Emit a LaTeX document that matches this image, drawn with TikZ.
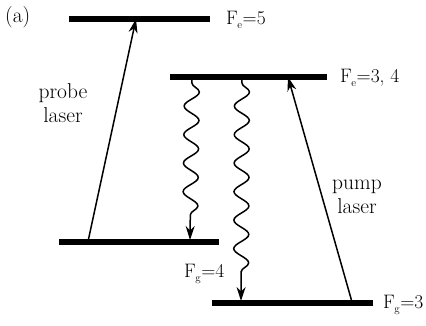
\documentclass[tikz,border=0pt]{standalone}
\usetikzlibrary{decorations.pathmorphing,arrows.meta}
\newcommand{\lev}[2]{F\kern-0.5pt\raisebox{-4pt}{\fontsize{11}{12}\selectfont #1}\kern0.5pt=#2}
\begin{document}
\begin{tikzpicture}[x=1pt,y=-1pt,
  level/.style={draw=none,fill=black,inner sep=0pt,minimum height=6pt},
  lbl/.style={inner sep=0pt,font=\fontsize{21.5}{24}\selectfont},
  flbl/.style={inner sep=0pt,anchor=west,font=\fontsize{19.5}{22}\selectfont},
  tip/.style={-{Stealth[length=14pt,width=9pt,inset=4.5pt]}},
  laser/.style={line width=1.5pt,tip},
  decay/.style={line width=1.5pt,tip,
    decorate,decoration={snake,segment length=28.5pt,amplitude=7.5pt,pre length=5pt,post length=17pt}}]
\useasboundingbox (0,0) rectangle (426,325);
\node[level,minimum width=141pt] (e5) at (139.5,18.5) {};
\node[level,minimum width=157pt] (e34) at (248.5,76.5) {};
\node[level,minimum width=160pt] (g4) at (139,241.5) {};
\node[level,minimum width=161pt] (g3) at (292.5,302.5) {};
\coordinate (pa) at (88,241.5);
\coordinate (pb) at (136,19);
\coordinate (qa) at (352,302);
\coordinate (qb) at (288,77);
\coordinate (w1a) at (192,78);
\coordinate (w1b) at (190,240);
\coordinate (w2a) at (242,78);
\coordinate (w2b) at (241,301);
\draw[laser] (pa) -- (pb);
\draw[laser] (qa) -- (qb);
\draw[decay] (w1a) -- (w1b);
\draw[decay] (w2a) -- (w2b);
\node[lbl,anchor=west] (a) at (5,17) {(a)};
\node[flbl] (le5) at (226,20) {\lev{e}{5}};
\node[flbl] (le34) at (340,78) {\lev{e}{3, 4}};
\node[lbl,align=center] (probe) at (63,103) {probe\\laser};
\node[lbl,align=center] (pump) at (357,197) {pump\\laser};
\node[flbl] (lg4) at (184,274) {\lev{g}{4}};
\node[flbl] (lg3) at (383,305) {\lev{g}{3}};
\end{tikzpicture}
\end{document}
